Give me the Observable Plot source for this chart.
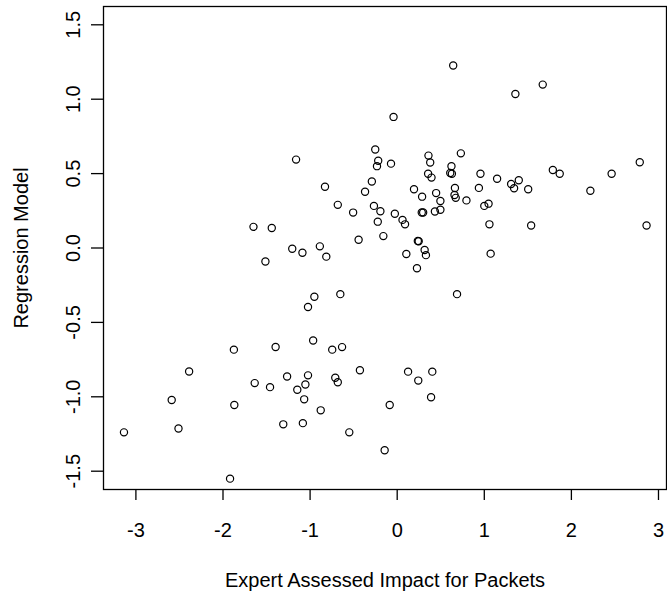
<!DOCTYPE html>
<html>
<head>
<meta charset="utf-8">
<script src="https://cdn.jsdelivr.net/npm/d3@7"></script>
<script src="https://cdn.jsdelivr.net/npm/@observablehq/plot@0.6"></script>
<style>
  html, body { margin: 0; padding: 0; background: #fff; }
  #chart { width: 667px; height: 596px; }
</style>
</head>
<body>
<div id="chart"></div>
<script>
const expertImpact = [
  0.643, 1.671, 1.357, -0.042, -0.252, -1.161, -0.218, -0.232, -0.071, 0.359,
  0.379, 0.731, 0.623, 0.609, 0.628, 0.355, 0.394, 0.956, 2.785, 1.787,
  1.866, 2.462, 1.147, 1.396, 1.308, 1.342, 1.504, 2.218, 0.938, 0.663,
  -0.291, -0.369, -0.829, 0.193, 0.286, 0.447, 0.496, 0.658, 0.672, 0.795,
  1.049, 1.000, -0.682, -0.506, -0.267, -0.193, -0.027, 0.282, 0.298, 0.433,
  0.496, -0.223, 0.061, 0.090, 1.059, 1.538, 2.863, -1.650, -1.440, -0.159,
  -0.443, 0.237, 0.247, -1.205, -0.888, -1.088, -0.814, -1.513, 0.105, 0.315,
  0.330, 1.073, 0.227, -0.951, -0.653, 0.687, -1.024, -0.965, -1.875, -1.396,
  -0.746, -0.633, -2.389, -0.428, 0.125, 0.403, -1.264, -1.024, -0.711, -0.682,
  0.242, -1.636, -1.460, -1.147, -1.054, 0.389, -2.589, -1.068, -1.870, -0.086,
  -0.878, -2.511, -1.308, -1.083, -3.137, -0.550, -0.144, -1.919
];
const regressionModel = [
  1.226, 1.098, 1.035, 0.881, 0.662, 0.594, 0.586, 0.550, 0.567, 0.621,
  0.575, 0.636, 0.550, 0.504, 0.499, 0.499, 0.473, 0.499, 0.576, 0.524,
  0.499, 0.499, 0.465, 0.455, 0.430, 0.402, 0.395, 0.385, 0.404, 0.403,
  0.447, 0.378, 0.412, 0.395, 0.345, 0.369, 0.316, 0.356, 0.337, 0.320,
  0.298, 0.283, 0.290, 0.238, 0.283, 0.247, 0.230, 0.239, 0.239, 0.245,
  0.257, 0.177, 0.189, 0.159, 0.159, 0.151, 0.151, 0.142, 0.134, 0.080,
  0.055, 0.047, 0.045, -0.005, 0.011, -0.032, -0.058, -0.091, -0.040, -0.013,
  -0.048, -0.038, -0.136, -0.328, -0.310, -0.310, -0.397, -0.622, -0.683, -0.665,
  -0.683, -0.666, -0.830, -0.822, -0.831, -0.831, -0.864, -0.856, -0.872, -0.902,
  -0.891, -0.908, -0.935, -0.953, -0.917, -1.003, -1.022, -1.017, -1.055, -1.055,
  -1.091, -1.213, -1.185, -1.177, -1.239, -1.239, -1.359, -1.550
];
const xTicks = [-3, -2, -1, 0, 1, 2, 3];
const xTickLabels = ["-3", "-2", "-1", "0", "1", "2", "3"];
const yTicks = [-1.5, -1.0, -0.5, 0.0, 0.5, 1.0, 1.5];
const yTickLabels = ["-1.5", "-1.0", "-0.5", "0.0", "0.5", "1.0", "1.5"];
const xTitle = "Expert Assessed Impact for Packets";
const yTitle = "Regression Model";

const points = expertImpact.map((x, i) => ({x, y: regressionModel[i]}));
const FONT = "'Liberation Sans', Arial, Helvetica, sans-serif";

const chart = Plot.plot({
  width: 667,
  height: 596,
  marginLeft: 103,
  marginRight: 1,
  marginTop: 6,
  marginBottom: 107,
  style: {fontFamily: FONT, fontSize: "20px", background: "#fff", color: "#000"},
  x: {domain: [-3.372, 3.092], label: null},
  y: {domain: [-1.623, 1.623], label: null},
  marks: [
    Plot.frame({stroke: "#000", strokeWidth: 1.3}),
    Plot.axisX(xTicks, {tickSize: 11, strokeWidth: 1.3, stroke: "#000", tickFormat: () => "", label: null}),
    Plot.axisY(yTicks, {tickSize: 12, strokeWidth: 1.3, stroke: "#000", tickFormat: () => "", label: null}),
    Plot.text(xTicks, {x: d => d, frameAnchor: "bottom", dy: 41.5, text: (d, i) => xTickLabels[i],
      fontSize: 20, fill: "#000", lineAnchor: "middle", textAnchor: "middle"}),
    Plot.text(yTicks, {y: d => d, frameAnchor: "left", dx: -30, rotate: -90, text: (d, i) => yTickLabels[i],
      fontSize: 20, fill: "#000", lineAnchor: "middle", textAnchor: "middle"}),
    Plot.text([xTitle], {frameAnchor: "bottom", dy: 91, text: d => d, fontSize: 20, fill: "#000",
      lineAnchor: "middle", textAnchor: "middle"}),
    Plot.text([yTitle], {frameAnchor: "left", dx: -81.5, rotate: -90, text: d => d, fontSize: 20, fill: "#000",
      lineAnchor: "middle", textAnchor: "middle"}),
    Plot.dot(points, {x: "x", y: "y", r: 3.6, stroke: "#000", strokeWidth: 1.2, fill: "none"})
  ]
});
document.getElementById("chart").append(chart);
</script>
</body>
</html>
